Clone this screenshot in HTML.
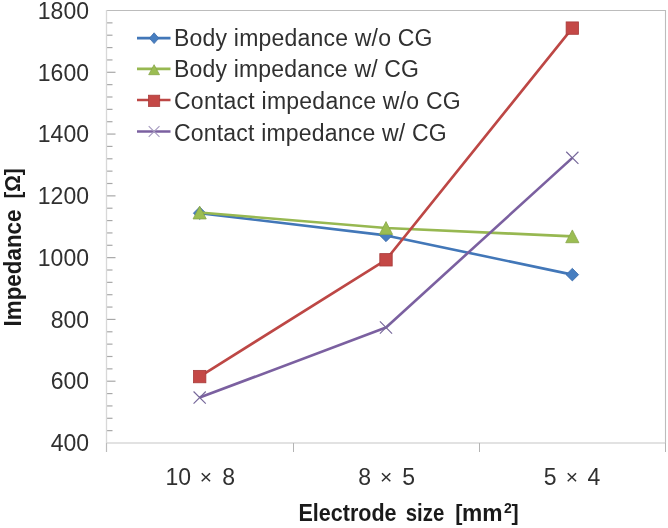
<!DOCTYPE html>
<html><head><meta charset="utf-8"><style>
html,body{margin:0;padding:0;background:#fff;width:668px;height:528px;overflow:hidden}
svg{display:block;filter:blur(0.3px)}
text{font-family:"Liberation Sans",sans-serif}
.tick{font-size:23px;fill:#303030}
.leg{font-size:23px;fill:#303030}
.ttl{font-size:24px;font-weight:bold;fill:#1a1a1a}
</style></head><body>
<svg width="668" height="528" viewBox="0 0 668 528">
<path d="M106.5 10.5H665.5V443.0" stroke="#bcbcbc" stroke-width="1.1" fill="none"/>
<line x1="106.5" y1="430.64" x2="112.5" y2="430.64" stroke="#a8a8a8" stroke-width="1.2"/>
<line x1="106.5" y1="418.29" x2="112.5" y2="418.29" stroke="#a8a8a8" stroke-width="1.2"/>
<line x1="106.5" y1="405.93" x2="112.5" y2="405.93" stroke="#a8a8a8" stroke-width="1.2"/>
<line x1="106.5" y1="393.57" x2="112.5" y2="393.57" stroke="#a8a8a8" stroke-width="1.2"/>
<line x1="106.5" y1="381.21" x2="115.5" y2="381.21" stroke="#a8a8a8" stroke-width="1.2"/>
<line x1="106.5" y1="368.86" x2="112.5" y2="368.86" stroke="#a8a8a8" stroke-width="1.2"/>
<line x1="106.5" y1="356.50" x2="112.5" y2="356.50" stroke="#a8a8a8" stroke-width="1.2"/>
<line x1="106.5" y1="344.14" x2="112.5" y2="344.14" stroke="#a8a8a8" stroke-width="1.2"/>
<line x1="106.5" y1="331.79" x2="112.5" y2="331.79" stroke="#a8a8a8" stroke-width="1.2"/>
<line x1="106.5" y1="319.43" x2="115.5" y2="319.43" stroke="#a8a8a8" stroke-width="1.2"/>
<line x1="106.5" y1="307.07" x2="112.5" y2="307.07" stroke="#a8a8a8" stroke-width="1.2"/>
<line x1="106.5" y1="294.71" x2="112.5" y2="294.71" stroke="#a8a8a8" stroke-width="1.2"/>
<line x1="106.5" y1="282.36" x2="112.5" y2="282.36" stroke="#a8a8a8" stroke-width="1.2"/>
<line x1="106.5" y1="270.00" x2="112.5" y2="270.00" stroke="#a8a8a8" stroke-width="1.2"/>
<line x1="106.5" y1="257.64" x2="115.5" y2="257.64" stroke="#a8a8a8" stroke-width="1.2"/>
<line x1="106.5" y1="245.29" x2="112.5" y2="245.29" stroke="#a8a8a8" stroke-width="1.2"/>
<line x1="106.5" y1="232.93" x2="112.5" y2="232.93" stroke="#a8a8a8" stroke-width="1.2"/>
<line x1="106.5" y1="220.57" x2="112.5" y2="220.57" stroke="#a8a8a8" stroke-width="1.2"/>
<line x1="106.5" y1="208.21" x2="112.5" y2="208.21" stroke="#a8a8a8" stroke-width="1.2"/>
<line x1="106.5" y1="195.86" x2="115.5" y2="195.86" stroke="#a8a8a8" stroke-width="1.2"/>
<line x1="106.5" y1="183.50" x2="112.5" y2="183.50" stroke="#a8a8a8" stroke-width="1.2"/>
<line x1="106.5" y1="171.14" x2="112.5" y2="171.14" stroke="#a8a8a8" stroke-width="1.2"/>
<line x1="106.5" y1="158.79" x2="112.5" y2="158.79" stroke="#a8a8a8" stroke-width="1.2"/>
<line x1="106.5" y1="146.43" x2="112.5" y2="146.43" stroke="#a8a8a8" stroke-width="1.2"/>
<line x1="106.5" y1="134.07" x2="115.5" y2="134.07" stroke="#a8a8a8" stroke-width="1.2"/>
<line x1="106.5" y1="121.71" x2="112.5" y2="121.71" stroke="#a8a8a8" stroke-width="1.2"/>
<line x1="106.5" y1="109.36" x2="112.5" y2="109.36" stroke="#a8a8a8" stroke-width="1.2"/>
<line x1="106.5" y1="97.00" x2="112.5" y2="97.00" stroke="#a8a8a8" stroke-width="1.2"/>
<line x1="106.5" y1="84.64" x2="112.5" y2="84.64" stroke="#a8a8a8" stroke-width="1.2"/>
<line x1="106.5" y1="72.29" x2="115.5" y2="72.29" stroke="#a8a8a8" stroke-width="1.2"/>
<line x1="106.5" y1="59.93" x2="112.5" y2="59.93" stroke="#a8a8a8" stroke-width="1.2"/>
<line x1="106.5" y1="47.57" x2="112.5" y2="47.57" stroke="#a8a8a8" stroke-width="1.2"/>
<line x1="106.5" y1="35.21" x2="112.5" y2="35.21" stroke="#a8a8a8" stroke-width="1.2"/>
<line x1="106.5" y1="22.86" x2="112.5" y2="22.86" stroke="#a8a8a8" stroke-width="1.2"/>
<line x1="106.5" y1="443.0" x2="665.5" y2="443.0" stroke="#c6c6c6" stroke-width="1.1"/>
<line x1="106.50" y1="443.0" x2="106.50" y2="452" stroke="#b4b4b4" stroke-width="1"/>
<line x1="293.50" y1="443.0" x2="293.50" y2="452" stroke="#b4b4b4" stroke-width="1"/>
<line x1="479.50" y1="443.0" x2="479.50" y2="452" stroke="#b4b4b4" stroke-width="1"/>
<line x1="665.50" y1="443.0" x2="665.50" y2="452" stroke="#b4b4b4" stroke-width="1"/>
<line x1="106.5" y1="10.0" x2="106.5" y2="452" stroke="#d8d8d8" stroke-width="1.3"/>
<line x1="106.5" y1="443.0" x2="106.5" y2="452" stroke="#bcbcbc" stroke-width="1"/>
<polyline points="199.67,213.16 386.00,235.40 572.33,274.63" fill="none" stroke="#4277B8" stroke-width="2.6" stroke-linejoin="round"/>
<path d="M199.67 206.86L205.97 213.16L199.67 219.46L193.37 213.16Z" fill="#477EC0" stroke="#3D6CAA" stroke-width="0.8"/>
<path d="M386.00 229.10L392.30 235.40L386.00 241.70L379.70 235.40Z" fill="#477EC0" stroke="#3D6CAA" stroke-width="0.8"/>
<path d="M572.33 268.33L578.63 274.63L572.33 280.93L566.03 274.63Z" fill="#477EC0" stroke="#3D6CAA" stroke-width="0.8"/>
<polyline points="199.67,212.54 386.00,227.99 572.33,236.33" fill="none" stroke="#97B851" stroke-width="2.6" stroke-linejoin="round"/>
<path d="M199.67 206.14L206.27 218.94L193.07 218.94Z" fill="#9BBD52" stroke="#88A64A" stroke-width="0.8"/>
<path d="M386.00 221.59L392.60 234.39L379.40 234.39Z" fill="#9BBD52" stroke="#88A64A" stroke-width="0.8"/>
<path d="M572.33 229.93L578.93 242.73L565.73 242.73Z" fill="#9BBD52" stroke="#88A64A" stroke-width="0.8"/>
<polyline points="199.67,376.58 386.00,259.81 572.33,28.11" fill="none" stroke="#BD4745" stroke-width="2.6" stroke-linejoin="round"/>
<rect x="193.47" y="370.38" width="12.40" height="12.40" fill="#C44846" stroke="#A83C3B" stroke-width="0.8"/>
<rect x="379.80" y="253.61" width="12.40" height="12.40" fill="#C44846" stroke="#A83C3B" stroke-width="0.8"/>
<rect x="566.13" y="21.91" width="12.40" height="12.40" fill="#C44846" stroke="#A83C3B" stroke-width="0.8"/>
<polyline points="199.67,397.59 386.00,327.46 572.33,157.86" fill="none" stroke="#7B60A0" stroke-width="2.6" stroke-linejoin="round"/>
<path d="M193.57 391.49L205.77 403.69M205.77 391.49L193.57 403.69" stroke="#76679A" stroke-width="1.15" fill="none"/>
<path d="M379.90 321.36L392.10 333.56M392.10 321.36L379.90 333.56" stroke="#76679A" stroke-width="1.15" fill="none"/>
<path d="M566.23 151.76L578.43 163.96M578.43 151.76L566.23 163.96" stroke="#76679A" stroke-width="1.15" fill="none"/>
<line x1="137" y1="38.2" x2="170.5" y2="38.2" stroke="#4277B8" stroke-width="2.7"/>
<path d="M154.10 32.80L158.80 38.20L154.10 43.60L149.40 38.20Z" fill="#477EC0" stroke="#3D6CAA" stroke-width="0.8"/>
<text x="174" y="46.4" class="leg" textLength="258.5" lengthAdjust="spacing">Body impedance w/o CG</text>
<line x1="137" y1="68.8" x2="170.5" y2="68.8" stroke="#97B851" stroke-width="2.7"/>
<path d="M154.10 64.70L159.50 74.70L148.70 74.70Z" fill="#9BBD52" stroke="#88A64A" stroke-width="0.8"/>
<text x="174" y="77.2" class="leg" textLength="245" lengthAdjust="spacing">Body impedance w/ CG</text>
<line x1="137" y1="100.0" x2="170.5" y2="100.0" stroke="#BD4745" stroke-width="2.7"/>
<rect x="148.50" y="95.20" width="11.20" height="11.20" fill="#C44846" stroke="#A83C3B" stroke-width="0.8"/>
<text x="174" y="109.1" class="leg" textLength="286.7" lengthAdjust="spacing">Contact impedance w/o CG</text>
<line x1="137" y1="131.5" x2="170.5" y2="131.5" stroke="#7B60A0" stroke-width="2.7"/>
<path d="M148.70 126.10L159.50 136.90M159.50 126.10L148.70 136.90" stroke="#a79cc0" stroke-width="1.15" fill="none"/>
<text x="174" y="140.7" class="leg" textLength="272.6" lengthAdjust="spacing">Contact impedance w/ CG</text>
<text x="89" y="451.2" class="tick" text-anchor="end">400</text>
<text x="89" y="389.4" class="tick" text-anchor="end">600</text>
<text x="89" y="327.6" class="tick" text-anchor="end">800</text>
<text x="89" y="265.8" class="tick" text-anchor="end">1000</text>
<text x="89" y="204.1" class="tick" text-anchor="end">1200</text>
<text x="89" y="142.3" class="tick" text-anchor="end">1400</text>
<text x="89" y="80.5" class="tick" text-anchor="end">1600</text>
<text x="89" y="18.7" class="tick" text-anchor="end">1800</text>
<text x="178.35" y="484.8" class="tick" text-anchor="middle">10</text>
<text x="205.80" y="484.3" class="tick" style="font-size:21px" text-anchor="middle">×</text>
<text x="228.75" y="484.8" class="tick" text-anchor="middle">8</text>
<text x="364.55" y="484.8" class="tick" text-anchor="middle">8</text>
<text x="386.20" y="484.3" class="tick" style="font-size:21px" text-anchor="middle">×</text>
<text x="408.70" y="484.8" class="tick" text-anchor="middle">5</text>
<text x="550.20" y="484.8" class="tick" text-anchor="middle">5</text>
<text x="571.80" y="484.3" class="tick" style="font-size:21px" text-anchor="middle">×</text>
<text x="594.00" y="484.8" class="tick" text-anchor="middle">4</text>
<text x="298.5" y="521.2" class="ttl" textLength="98" lengthAdjust="spacingAndGlyphs">Electrode</text>
<text x="405.8" y="521.2" class="ttl" textLength="38.5" lengthAdjust="spacingAndGlyphs">size</text>
<text x="455.2" y="520.2" class="ttl" style="font-size:21.5px">[</text>
<text x="462" y="521.2" class="ttl" textLength="40.5" lengthAdjust="spacingAndGlyphs">mm</text>
<text x="503.9" y="513.2" class="ttl" style="font-size:14px">2</text>
<text x="511.6" y="520.2" class="ttl" style="font-size:21.5px">]</text>
<g transform="translate(20.7,326.5) rotate(-90)"><text x="0" y="0" class="ttl" textLength="117" lengthAdjust="spacingAndGlyphs">Impedance</text><text x="127.9" y="-1" class="ttl" style="font-size:21.5px" textLength="30.3" lengthAdjust="spacingAndGlyphs">[Ω]</text></g>
</svg>
</body></html>
